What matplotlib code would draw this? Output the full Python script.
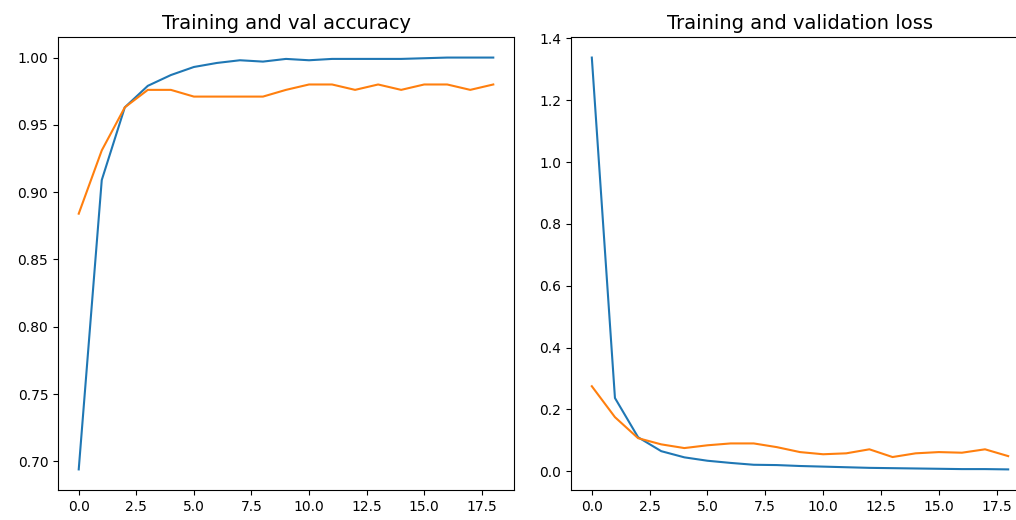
import matplotlib
matplotlib.use("Agg")
import matplotlib.pyplot as plt

epochs = list(range(19))

train_acc = [0.694, 0.909, 0.963, 0.979, 0.987, 0.993, 0.996, 0.998, 0.997, 0.999,
             0.998, 0.999, 0.999, 0.999, 0.999, 0.9995, 1.000, 1.000, 1.000]
val_acc = [0.884, 0.931, 0.963, 0.976, 0.976, 0.971, 0.971, 0.971, 0.971, 0.976,
           0.980, 0.980, 0.976, 0.980, 0.976, 0.980, 0.980, 0.976, 0.980]

train_loss = [1.338, 0.237, 0.110, 0.065, 0.045, 0.034, 0.027, 0.021, 0.020, 0.017,
              0.015, 0.013, 0.011, 0.010, 0.009, 0.008, 0.007, 0.007, 0.006]
val_loss = [0.275, 0.175, 0.107, 0.087, 0.075, 0.084, 0.090, 0.090, 0.078, 0.062,
            0.055, 0.058, 0.071, 0.046, 0.058, 0.062, 0.060, 0.071, 0.049]

fig = plt.figure(figsize=(10.16, 5.2), dpi=100)
ax1 = fig.add_axes([58 / 1016, 0.0577, 456 / 1016, 0.8712])
ax2 = fig.add_axes([571 / 1016, 0.0577, 458 / 1016, 0.8712])

ax1.plot(epochs, train_acc, label="Training accuracy")
ax1.plot(epochs, val_acc, label="Validation accuracy")
ax1.set_title("Training and val accuracy", fontsize=14)

ax2.plot(epochs, train_loss, label="Training loss")
ax2.plot(epochs, val_loss, label="Validation loss")
ax2.set_title("Training and validation loss", fontsize=14)

for ax in (ax1, ax2):
    ax.tick_params(labelsize=10)

fig.savefig("out.png", dpi=100)
